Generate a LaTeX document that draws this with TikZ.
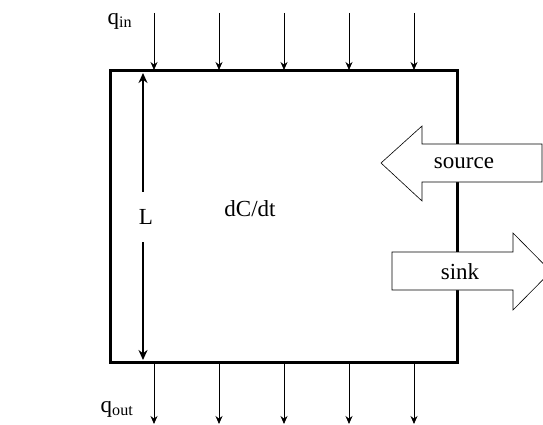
\documentclass[tikz,border=0pt]{standalone}
\usepackage{fontspec}
\setmainfont{Liberation Serif}
\usetikzlibrary{arrows.meta,positioning}

\begin{document}
\begin{tikzpicture}[x=1pt,y=-1pt,
      flux/.style={-{Stealth[length=8pt,width=7pt]},line width=0.8pt},
      len/.style={-{Stealth[length=10pt,width=9pt]},line width=1.6pt},
      bigarr/.style={draw,fill=white,line width=0.6pt},
      lbl/.style={font=\fontsize{23}{26}\selectfont,inner sep=1pt}]
    \clip (0,0) rectangle (543,425);
    \node[draw,line width=3pt,minimum width=347pt,minimum height=291pt,
          inner sep=0pt] (cell) at (283.5,216.5) {};

    % inflow and outflow
    \foreach \x in {154,219,284,349,414} {
      \coordinate (in\x) at (\x,13);
      \coordinate (top\x) at (\x,70);
      \draw[flux] (in\x) -- (top\x);
      \coordinate (bot\x) at (\x,364);
      \coordinate (out\x) at (\x,424);
      \draw[flux] (bot\x) -- (out\x);
    }
    \node[lbl] (qin) at (120,21) {q\textsubscript{in}};
    \node[lbl] (qout) at (117,409) {q\textsubscript{out}};

    % length of the cell
    \node[lbl,minimum height=50pt,inner sep=0pt] (L) at (146,217) {L};
    \coordinate (Ltop) at (143,73);
    \coordinate (Lbot) at (143,360);
    \draw[len] (L.north -| Ltop) -- (Ltop);
    \draw[len] (L.south -| Lbot) -- (Lbot);

    \node[lbl] (rate) at (250,209) {dC/dt};

    % source and sink
    \draw[bigarr] (381,163) -- (422,126) -- (422,144) -- (542,144)
      -- (542,182) -- (422,182) -- (422,201) -- cycle;
    \node[lbl] (source) at (464,163) {source};
    \draw[bigarr] (392,252) -- (513,252) -- (513,233) -- (551,271.5)
      -- (513,310) -- (513,290) -- (392,290) -- cycle;
    \node[lbl] (sink) at (460,272) {sink};
  \end{tikzpicture}
\end{document}
